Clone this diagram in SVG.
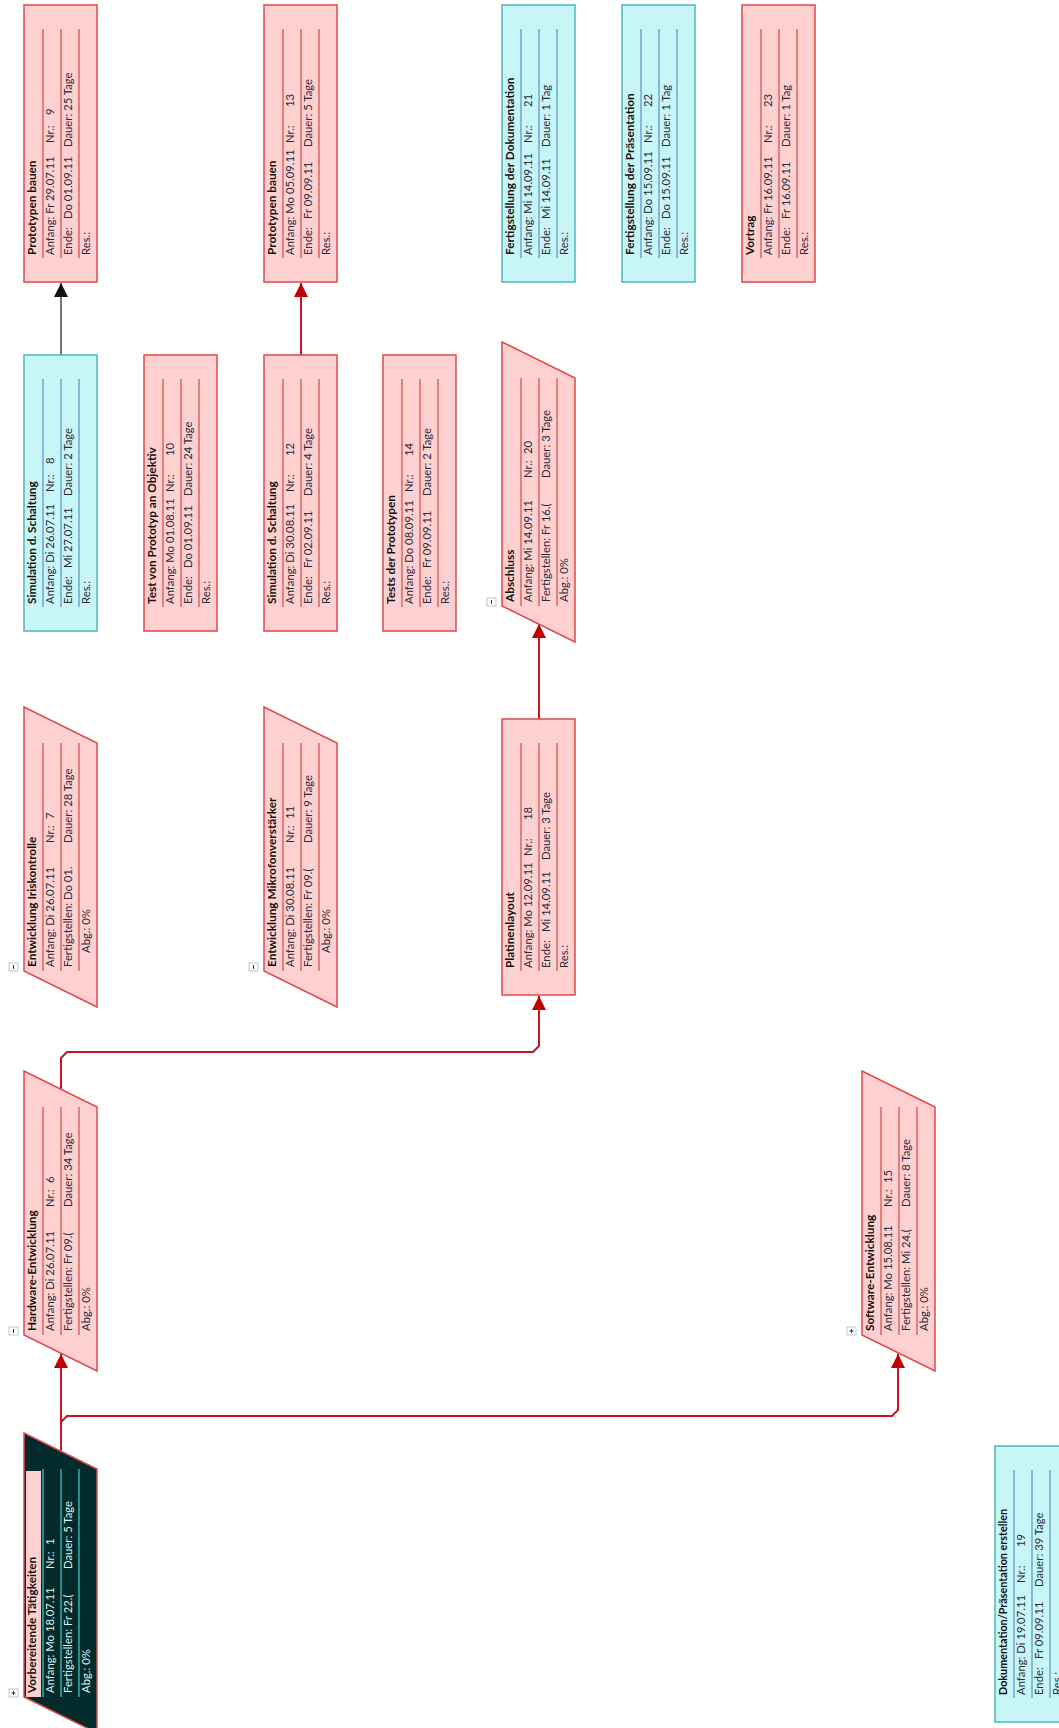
<svg xmlns="http://www.w3.org/2000/svg" width="1059" height="1728" viewBox="0 0 1059 1728">
<style>
.pk{fill:#ffd0d0;stroke:#e0484c;stroke-width:1.5}
.cy{fill:#c8f6f6;stroke:#4cb8bc;stroke-width:1.5}
.dk{fill:#032b2b;stroke:#e0484c;stroke-width:1.5}
.lp{stroke:#d84848;stroke-width:1.2}
.lc{stroke:#5a8fd0;stroke-width:1.2}
.ld{stroke:#3cd0d0;stroke-width:1.2}
text{font-family:Lato,"Liberation Sans",sans-serif;font-size:11.3px;fill:#2a2a3a}
.b{font-weight:bold;fill:#111;font-size:11.8px}
.w{fill:#d8f4f4}
.tg{fill:#fff;stroke:#a8b8d0;stroke-width:0.8}
.tgs{stroke:#333;stroke-width:1}
.c{fill:none;stroke:#c8161e;stroke-width:2}
.ck{fill:none;stroke:#444;stroke-width:1.5}
</style>
<defs>
<marker id="ar" markerUnits="userSpaceOnUse" markerWidth="14" markerHeight="14" refX="14" refY="7" orient="auto"><path d="M0,0 L14,7 L0,14 z" fill="#c00000"/></marker>
<marker id="ak" markerUnits="userSpaceOnUse" markerWidth="14" markerHeight="14" refX="14" refY="7" orient="auto"><path d="M0,0 L14,7 L0,14 z" fill="#111"/></marker>
</defs>

<g id="connectors">
<path class="ck" d="M61,355 L61,283" marker-end="url(#ak)"/>
<path class="c" d="M301,355 L301,283" marker-end="url(#ar)"/>
<path class="c" d="M61,1452 L61,1354" marker-end="url(#ar)"/>
<path class="c" d="M61,1452 L61,1422 L67,1416 L892,1416 L898,1410 L898,1354" marker-end="url(#ar)"/>
<path class="c" d="M61,1090 L61,1058 L67,1052 L533,1052 L539,1046 L539,996" marker-end="url(#ar)"/>
<path class="c" d="M539,719 L539,624" marker-end="url(#ar)"/>
</g>

<!-- Row 1 -->
<g id="n9" transform="translate(24,282) rotate(-90)">
<rect class="pk" x="0" y="0" width="277" height="73"/>
<line class="lp" x1="24" y1="19" x2="253" y2="19"/><line class="lp" x1="24" y1="37" x2="253" y2="37"/><line class="lp" x1="24" y1="55" x2="253" y2="55"/>
<text class="b" x="27" y="12">Prototypen bauen</text>
<text x="27" y="30">Anfang: Fr 29.07.11</text><text x="139" y="30">Nr.:</text><text x="167" y="30">9</text>
<text x="27" y="48">Ende:</text><text x="63" y="48">Do 01.09.11</text><text x="135" y="48">Dauer: 25 Tage</text>
<text x="27" y="66">Res.:</text>
</g>
<g id="n13" transform="translate(264,282) rotate(-90)">
<rect class="pk" x="0" y="0" width="277" height="73"/>
<line class="lp" x1="24" y1="19" x2="253" y2="19"/><line class="lp" x1="24" y1="37" x2="253" y2="37"/><line class="lp" x1="24" y1="55" x2="253" y2="55"/>
<text class="b" x="27" y="12">Prototypen bauen</text>
<text x="27" y="30">Anfang: Mo 05.09.11</text><text x="139" y="30">Nr.:</text><text x="175" y="30">13</text>
<text x="27" y="48">Ende:</text><text x="63" y="48">Fr 09.09.11</text><text x="135" y="48">Dauer: 5 Tage</text>
<text x="27" y="66">Res.:</text>
</g>
<g id="n21" transform="translate(502,282) rotate(-90)">
<rect class="cy" x="0" y="0" width="277" height="73"/>
<line class="lc" x1="24" y1="19" x2="253" y2="19"/><line class="lc" x1="24" y1="37" x2="253" y2="37"/><line class="lc" x1="24" y1="55" x2="253" y2="55"/>
<text class="b" x="27" y="12">Fertigstellung der Dokumentation</text>
<text x="27" y="30">Anfang: Mi 14.09.11</text><text x="139" y="30">Nr.:</text><text x="175" y="30">21</text>
<text x="27" y="48">Ende:</text><text x="63" y="48">Mi 14.09.11</text><text x="135" y="48">Dauer: 1 Tag</text>
<text x="27" y="66">Res.:</text>
</g>
<g id="n22" transform="translate(622,282) rotate(-90)">
<rect class="cy" x="0" y="0" width="277" height="73"/>
<line class="lc" x1="24" y1="19" x2="253" y2="19"/><line class="lc" x1="24" y1="37" x2="253" y2="37"/><line class="lc" x1="24" y1="55" x2="253" y2="55"/>
<text class="b" x="27" y="12">Fertigstellung der Präsentation</text>
<text x="27" y="30">Anfang: Do 15.09.11</text><text x="139" y="30">Nr.:</text><text x="175" y="30">22</text>
<text x="27" y="48">Ende:</text><text x="63" y="48">Do 15.09.11</text><text x="135" y="48">Dauer: 1 Tag</text>
<text x="27" y="66">Res.:</text>
</g>
<g id="n23" transform="translate(742,282) rotate(-90)">
<rect class="pk" x="0" y="0" width="277" height="73"/>
<line class="lp" x1="24" y1="19" x2="253" y2="19"/><line class="lp" x1="24" y1="37" x2="253" y2="37"/><line class="lp" x1="24" y1="55" x2="253" y2="55"/>
<text class="b" x="27" y="12">Vortrag</text>
<text x="27" y="30">Anfang: Fr 16.09.11</text><text x="139" y="30">Nr.:</text><text x="175" y="30">23</text>
<text x="27" y="48">Ende:</text><text x="63" y="48">Fr 16.09.11</text><text x="135" y="48">Dauer: 1 Tag</text>
<text x="27" y="66">Res.:</text>
</g>

<!-- Row 2 -->
<g id="n8" transform="translate(24,631) rotate(-90)">
<rect class="cy" x="0" y="0" width="276" height="73"/>
<line class="lc" x1="24" y1="19" x2="252" y2="19"/><line class="lc" x1="24" y1="37" x2="252" y2="37"/><line class="lc" x1="24" y1="55" x2="252" y2="55"/>
<text class="b" x="27" y="12">Simulation d. Schaltung</text>
<text x="27" y="30">Anfang: Di 26.07.11</text><text x="139" y="30">Nr.:</text><text x="167" y="30">8</text>
<text x="27" y="48">Ende:</text><text x="63" y="48">Mi 27.07.11</text><text x="135" y="48">Dauer: 2 Tage</text>
<text x="27" y="66">Res.:</text>
</g>
<g id="n10" transform="translate(144,631) rotate(-90)">
<rect class="pk" x="0" y="0" width="276" height="73"/>
<line class="lp" x1="24" y1="19" x2="252" y2="19"/><line class="lp" x1="24" y1="37" x2="252" y2="37"/><line class="lp" x1="24" y1="55" x2="252" y2="55"/>
<text class="b" x="27" y="12">Test von Prototyp an Objektiv</text>
<text x="27" y="30">Anfang: Mo 01.08.11</text><text x="139" y="30">Nr.:</text><text x="175" y="30">10</text>
<text x="27" y="48">Ende:</text><text x="63" y="48">Do 01.09.11</text><text x="135" y="48">Dauer: 24 Tage</text>
<text x="27" y="66">Res.:</text>
</g>
<g id="n12" transform="translate(264,631) rotate(-90)">
<rect class="pk" x="0" y="0" width="276" height="73"/>
<line class="lp" x1="24" y1="19" x2="252" y2="19"/><line class="lp" x1="24" y1="37" x2="252" y2="37"/><line class="lp" x1="24" y1="55" x2="252" y2="55"/>
<text class="b" x="27" y="12">Simulation d. Schaltung</text>
<text x="27" y="30">Anfang: Di 30.08.11</text><text x="139" y="30">Nr.:</text><text x="175" y="30">12</text>
<text x="27" y="48">Ende:</text><text x="63" y="48">Fr 02.09.11</text><text x="135" y="48">Dauer: 4 Tage</text>
<text x="27" y="66">Res.:</text>
</g>
<g id="n14" transform="translate(383,631) rotate(-90)">
<rect class="pk" x="0" y="0" width="276" height="73"/>
<line class="lp" x1="24" y1="19" x2="252" y2="19"/><line class="lp" x1="24" y1="37" x2="252" y2="37"/><line class="lp" x1="24" y1="55" x2="252" y2="55"/>
<text class="b" x="27" y="12">Tests der Prototypen</text>
<text x="27" y="30">Anfang: Do 08.09.11</text><text x="139" y="30">Nr.:</text><text x="175" y="30">14</text>
<text x="27" y="48">Ende:</text><text x="63" y="48">Fr 09.09.11</text><text x="135" y="48">Dauer: 2 Tage</text>
<text x="27" y="66">Res.:</text>
</g>
<g id="n20" transform="translate(502,606) rotate(-90)">
<polygon class="pk" points="0,0 264,0 228,73 -36,73"/>
<line class="lp" x1="0" y1="19" x2="228" y2="19"/><line class="lp" x1="0" y1="37" x2="228" y2="37"/><line class="lp" x1="0" y1="55" x2="228" y2="55"/>
<text class="b" x="4" y="12">Abschluss</text>
<text x="4" y="30">Anfang: Mi 14.09.11</text><text x="128" y="30">Nr.:</text><text x="152" y="30">20</text>
<text x="4" y="48">Fertigstellen: Fr 16.(</text><text x="128" y="48">Dauer: 3 Tage</text>
<text x="4" y="66">Abg.: 0%</text>
<rect class="tg" x="0" y="-15" width="8" height="9"/><line class="tgs" x1="2" y1="-10.5" x2="6" y2="-10.5"/>
</g>

<!-- Row 3 -->
<g id="n7" transform="translate(24,971) rotate(-90)">
<polygon class="pk" points="0,0 264,0 228,73 -36,73"/>
<line class="lp" x1="0" y1="19" x2="228" y2="19"/><line class="lp" x1="0" y1="37" x2="228" y2="37"/><line class="lp" x1="0" y1="55" x2="228" y2="55"/>
<text class="b" x="4" y="12">Entwicklung Iriskontrolle</text>
<text x="4" y="30">Anfang: Di 26.07.11</text><text x="128" y="30">Nr.:</text><text x="152" y="30">7</text>
<text x="4" y="48">Fertigstellen: Do 01.</text><text x="128" y="48">Dauer: 28 Tage</text>
<text x="18" y="66">Abg.: 0%</text>
<rect class="tg" x="0" y="-15" width="8" height="9"/><line class="tgs" x1="2" y1="-10.5" x2="6" y2="-10.5"/>
</g>
<g id="n11" transform="translate(264,971) rotate(-90)">
<polygon class="pk" points="0,0 264,0 228,73 -36,73"/>
<line class="lp" x1="0" y1="19" x2="228" y2="19"/><line class="lp" x1="0" y1="37" x2="228" y2="37"/><line class="lp" x1="0" y1="55" x2="228" y2="55"/>
<text class="b" x="4" y="12">Entwicklung Mikrofonverstärker</text>
<text x="4" y="30">Anfang: Di 30.08.11</text><text x="128" y="30">Nr.:</text><text x="152" y="30">11</text>
<text x="4" y="48">Fertigstellen: Fr 09.(</text><text x="128" y="48">Dauer: 9 Tage</text>
<text x="18" y="66">Abg.: 0%</text>
<rect class="tg" x="0" y="-15" width="8" height="9"/><line class="tgs" x1="2" y1="-10.5" x2="6" y2="-10.5"/>
</g>
<g id="n18" transform="translate(502,995) rotate(-90)">
<rect class="pk" x="0" y="0" width="276" height="73"/>
<line class="lp" x1="24" y1="19" x2="252" y2="19"/><line class="lp" x1="24" y1="37" x2="252" y2="37"/><line class="lp" x1="24" y1="55" x2="252" y2="55"/>
<text class="b" x="27" y="12">Platinenlayout</text>
<text x="27" y="30">Anfang: Mo 12.09.11</text><text x="139" y="30">Nr.:</text><text x="175" y="30">18</text>
<text x="27" y="48">Ende:</text><text x="63" y="48">Mi 14.09.11</text><text x="135" y="48">Dauer: 3 Tage</text>
<text x="27" y="66">Res.:</text>
</g>

<!-- Row 4 -->
<g id="n6" transform="translate(24,1335) rotate(-90)">
<polygon class="pk" points="0,0 264,0 228,73 -36,73"/>
<line class="lp" x1="0" y1="19" x2="228" y2="19"/><line class="lp" x1="0" y1="37" x2="228" y2="37"/><line class="lp" x1="0" y1="55" x2="228" y2="55"/>
<text class="b" x="4" y="12">Hardware-Entwicklung</text>
<text x="4" y="30">Anfang: Di 26.07.11</text><text x="128" y="30">Nr.:</text><text x="152" y="30">6</text>
<text x="4" y="48">Fertigstellen: Fr 09.(</text><text x="128" y="48">Dauer: 34 Tage</text>
<text x="4" y="66">Abg.: 0%</text>
<rect class="tg" x="0" y="-15" width="8" height="9"/><line class="tgs" x1="2" y1="-10.5" x2="6" y2="-10.5"/>
</g>
<g id="n15" transform="translate(862,1335) rotate(-90)">
<polygon class="pk" points="0,0 264,0 228,73 -36,73"/>
<line class="lp" x1="0" y1="19" x2="228" y2="19"/><line class="lp" x1="0" y1="37" x2="228" y2="37"/><line class="lp" x1="0" y1="55" x2="228" y2="55"/>
<text class="b" x="4" y="12">Software-Entwicklung</text>
<text x="4" y="30">Anfang: Mo 15.08.11</text><text x="128" y="30">Nr.:</text><text x="152" y="30">15</text>
<text x="4" y="48">Fertigstellen: Mi 24.(</text><text x="128" y="48">Dauer: 8 Tage</text>
<text x="4" y="66">Abg.: 0%</text>
<rect class="tg" x="0" y="-15" width="8" height="9"/><line class="tgs" x1="2" y1="-10.5" x2="6" y2="-10.5"/><line class="tgs" x1="4" y1="-12.5" x2="4" y2="-8.5"/>
</g>

<!-- Row 5 -->
<g id="n1" transform="translate(24,1697) rotate(-90)">
<polygon class="dk" points="0,0 264,0 228,73 -36,73"/>
<rect x="0" y="2" width="226" height="15" fill="#ffd0d0"/>
<line class="ld" x1="0" y1="19" x2="228" y2="19"/><line class="ld" x1="0" y1="37" x2="228" y2="37"/><line class="ld" x1="0" y1="55" x2="228" y2="55"/>
<text class="b" x="4" y="12" fill="#2a2a3a">Vorbereitende Tätigkeiten</text>
<text class="w" x="4" y="30">Anfang: Mo 18.07.11</text><text class="w" x="128" y="30">Nr.:</text><text class="w" x="152" y="30">1</text>
<text class="w" x="4" y="48">Fertigstellen: Fr 22.(</text><text class="w" x="128" y="48">Dauer: 5 Tage</text>
<text class="w" x="4" y="66">Abg.: 0%</text>
<rect class="tg" x="0" y="-15" width="8" height="9"/><line class="tgs" x1="2" y1="-10.5" x2="6" y2="-10.5"/><line class="tgs" x1="4" y1="-12.5" x2="4" y2="-8.5"/>
</g>
<g id="n19" transform="translate(995,1722) rotate(-90)">
<rect class="cy" x="0" y="0" width="276" height="73"/>
<line class="lc" x1="24" y1="19" x2="252" y2="19"/><line class="lc" x1="24" y1="37" x2="252" y2="37"/><line class="lc" x1="24" y1="55" x2="252" y2="55"/>
<text class="b" x="27" y="12" style="font-size:10.8px">Dokumentation/Präsentation erstellen</text>
<text x="27" y="30">Anfang: Di 19.07.11</text><text x="139" y="30">Nr.:</text><text x="175" y="30">19</text>
<text x="27" y="48">Ende:</text><text x="63" y="48">Fr 09.09.11</text><text x="135" y="48">Dauer: 39 Tage</text>
<text x="27" y="66">Res.:</text>
</g>
</svg>
